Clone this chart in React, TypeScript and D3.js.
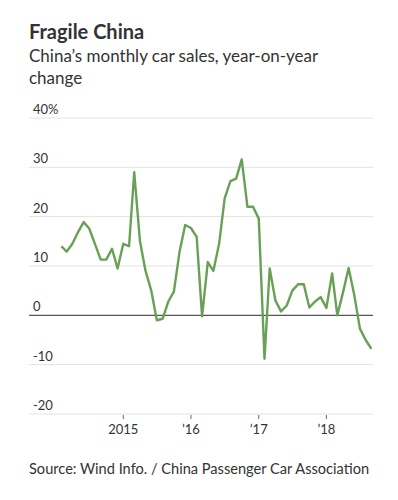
import { useRef, useEffect } from 'react';
import * as d3 from 'd3';

// monthly YoY change, Feb 2014 – Sep 2018
const startMonth = new Date(2014, 1, 1);
const salesChange = [
    14, 12.9, 14.5, 16.8, 18.9, 17.6, 14.5, 11.3, 11.3, 13.5, 9.5,
    14.5, 14, 29, 15, 9, 5, -1, -0.7, 2.8, 4.8, 13, 18.3,
    17.7, 15.9, -0.2, 10.8, 9, 14.5, 23.7, 27.2, 27.7, 31.6, 22, 22,
    19.6, -8.8, 9.5, 3, 0.8, 2, 5, 6.3, 6.3, 1.6, 2.8, 3.7,
    1.5, 8.5, 0, 4.7, 9.6, 4, -2.7, -5, -6.8,
];
const yTicks = [-20, -10, 0, 10, 20, 30, 40];
const xTickYears = [2015, 2016, 2017, 2018];
const xTickLabels = ['2015', '\u201916', '\u201917', '\u201918'];

const W = 398;
const H = 500;

export default function App() {
    const svgRef = useRef<SVGSVGElement | null>(null);

    useEffect(() => {
        if (!svgRef.current) return;
        const svg = d3.select(svgRef.current);
        svg.selectAll('*').remove();

        const font = "Lato, 'Noto Sans', sans-serif";
        const dates = salesChange.map((_, i) => d3.timeMonth.offset(startMonth, i));

        const x = d3.scaleTime()
            .domain([new Date(2015, 0, 1), new Date(2018, 0, 1)])
            .range([123.3, 326.4]);
        const y = d3.scaleLinear().domain([-20, 40]).range([414, 118]);

        const left = 29, right = 373;

        // title block
        svg.append('text').attr('x', 29).attr('y', 39)
            .style('font-family', font).style('font-weight', 700)
            .style('font-size', '20px').attr('fill', '#333')
            .text('Fragile China');
        svg.append('text').attr('x', 29).attr('y', 62)
            .style('font-family', font).style('font-size', '17px').attr('fill', '#333')
            .text('China\u2019s monthly car sales, year-on-year');
        svg.append('text').attr('x', 29).attr('y', 84)
            .style('font-family', font).style('font-size', '17px').attr('fill', '#333')
            .text('change');

        // gridlines + y labels
        const grid = svg.append('g');
        grid.selectAll('line').data(yTicks).join('line')
            .attr('x1', left).attr('x2', right)
            .attr('y1', d => y(d)).attr('y2', d => y(d))
            .attr('stroke', d => d === 0 ? '#555' : '#e2e2e2')
            .attr('stroke-width', d => d === 0 ? 1.2 : 1);
        grid.selectAll('text').data(yTicks).join('text')
            .attr('x', 33).attr('y', d => y(d) - 4)
            .style('font-family', font).style('font-size', '13px').attr('fill', '#333')
            .text(d => d === 40 ? '40%' : String(d));

        // x ticks
        const xt = svg.append('g');
        xt.selectAll('line').data(xTickYears).join('line')
            .attr('x1', d => x(new Date(d, 0, 1))).attr('x2', d => x(new Date(d, 0, 1)))
            .attr('y1', 415).attr('y2', 419)
            .attr('stroke', '#666');
        xt.selectAll('text').data(xTickYears).join('text')
            .attr('x', d => x(new Date(d, 0, 1))).attr('y', 434)
            .attr('text-anchor', 'middle')
            .style('font-family', font).style('font-size', '13px').attr('fill', '#333')
            .text((_, i) => xTickLabels[i]);

        // line
        const line = d3.line<number>()
            .x((_, i) => x(dates[i]))
            .y(d => y(d));
        svg.append('path').datum(salesChange)
            .attr('d', line)
            .attr('fill', 'none')
            .attr('stroke', '#68a155')
            .attr('stroke-width', 2.4)
            .attr('stroke-linejoin', 'round');

        // source
        svg.append('text').attr('x', 29).attr('y', 474)
            .style('font-family', font).style('font-size', '14.6px').attr('fill', '#333')
            .text('Source: Wind Info. / China Passenger Car Association');
    }, []);

    return (
        <svg ref={svgRef} width={W} height={H}
             style={{ position: 'absolute', left: 0, top: 0, background: '#fff' }} />
    );
}
